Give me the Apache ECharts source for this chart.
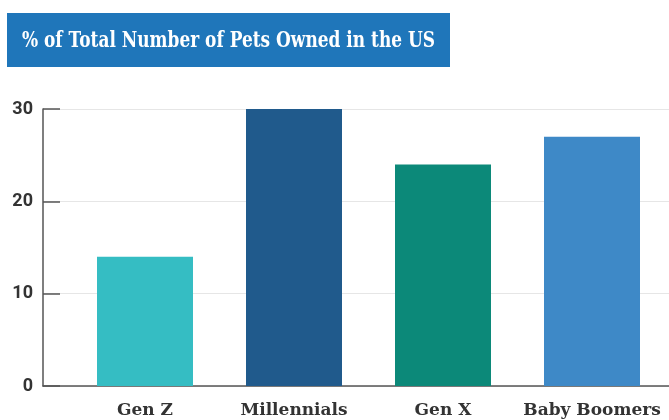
<!DOCTYPE html>
<html>
<head>
<meta charset="utf-8">
<script src="https://cdn.jsdelivr.net/npm/echarts@6/dist/echarts.min.js"></script>
<style>
  html, body { margin: 0; padding: 0; background: #ffffff; }
  #chart { width: 669px; height: 420px; }
</style>
</head>
<body>
<div id="chart"></div>
<script>
// Share of all pets owned in the US, by generation (%)
const generations = ['Gen Z', 'Millennials', 'Gen X', 'Baby Boomers'];
const petShare = [14, 30, 24, 27];
const barColors = ['#35bdc3', '#205a8c', '#0c8979', '#3e89c7'];
const yTicks = [0, 10, 20, 30];
const chartTitle = '% of Total Number of Pets Owned in the US';

const plotTop = 109;
const plotBottom = 34;
const slab = '"DejaVu Serif", serif';
const titleFont = 'bold 23px ' + slab;

// squeeze the banner title so it fits the banner width
function textWidth(text, font) {
  const ctx = document.createElement('canvas').getContext('2d');
  ctx.font = font;
  return ctx.measureText(text).width;
}
const titleScale = 413 / textWidth(chartTitle, titleFont);

const chart = echarts.init(document.getElementById('chart'), null, { renderer: 'canvas' });

chart.setOption({
  animation: false,
  backgroundColor: '#ffffff',
  graphic: [
    {
      type: 'rect',
      left: 7, top: 13, z: 0,
      shape: { width: 443, height: 54 },
      style: { fill: '#1f76ba' }
    },
    {
      type: 'text',
      x: 22, y: 41, z: 1,
      scaleX: titleScale,
      style: {
        text: chartTitle,
        fill: '#ffffff',
        font: titleFont,
        align: 'left',
        verticalAlign: 'middle'
      }
    }
  ],
  grid: [
    // frame: y axis, gridlines and baseline across the full width
    { left: 43, right: 0, top: plotTop, bottom: plotBottom, containLabel: false },
    // bars
    { left: 70.5, right: 2.5, top: plotTop, bottom: plotBottom, containLabel: false }
  ],
  xAxis: [
    {
      gridIndex: 0, type: 'value', min: 0, max: 1,
      axisLine: { show: true, lineStyle: { color: '#555555', width: 1.5 } },
      axisTick: { show: false }, axisLabel: { show: false }, splitLine: { show: false }
    },
    {
      gridIndex: 1, type: 'category', data: generations,
      axisLine: { show: false }, axisTick: { show: false },
      axisLabel: {
        interval: 0,
        margin: 16,
        color: '#333333',
        fontFamily: slab,
        fontWeight: 'bold',
        fontSize: 17
      }
    }
  ],
  yAxis: [
    {
      gridIndex: 0, type: 'value', min: yTicks[0], max: yTicks[yTicks.length - 1], interval: 10,
      axisLine: { show: true, lineStyle: { color: '#555555', width: 1.5 } },
      axisTick: { show: true, inside: true, length: 17, lineStyle: { color: '#555555', width: 1.5 } },
      axisLabel: {
        margin: 10,
        color: '#333333',
        fontFamily: 'Roboto, "Liberation Sans", sans-serif',
        fontWeight: 'bold',
        fontSize: 18
      },
      splitLine: { show: true, lineStyle: { color: '#e6e6e6', width: 1 } }
    },
    {
      gridIndex: 1, type: 'value', min: yTicks[0], max: yTicks[yTicks.length - 1], interval: 10,
      show: false, splitLine: { show: false }
    }
  ],
  series: [
    {
      type: 'bar',
      xAxisIndex: 1, yAxisIndex: 1,
      barWidth: 96,
      data: petShare.map((v, i) => ({ value: v, itemStyle: { color: barColors[i] } })),
      z: 3
    }
  ]
});
</script>
</body>
</html>
